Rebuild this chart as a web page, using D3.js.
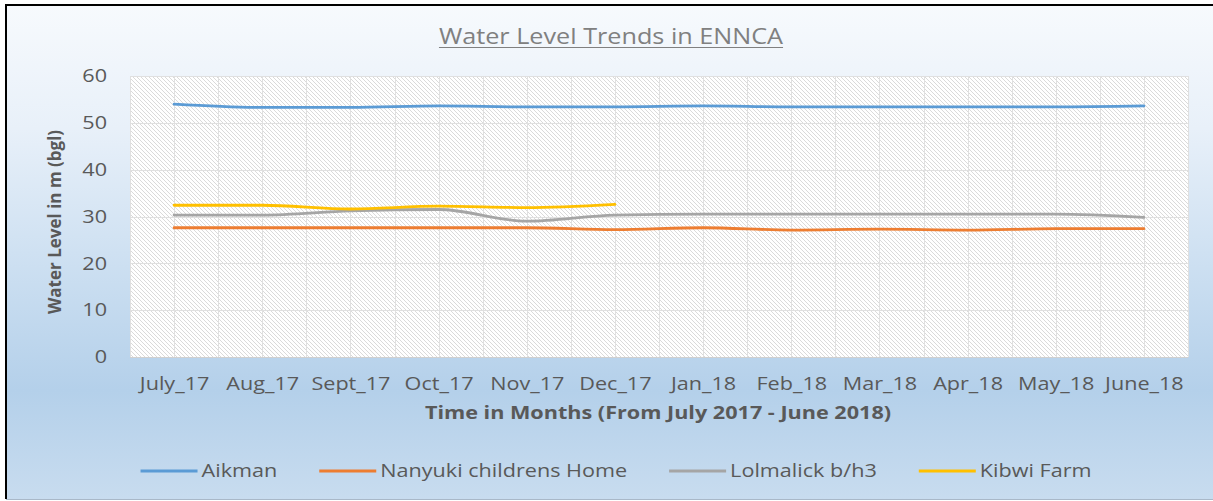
<!DOCTYPE html>
<html>
<head>
<meta charset="utf-8">
<script src="https://cdn.jsdelivr.net/npm/d3@7"></script>
<style>
  html, body { margin: 0; padding: 0; background: #fff; }
  svg { display: block; font-family: 'Open Sans', sans-serif; }
</style>
</head>
<body>
<div id="chart"></div>
<script>
// data
const months = ['July_17', 'Aug_17', 'Sept_17', 'Oct_17', 'Nov_17', 'Dec_17',
  'Jan_18', 'Feb_18', 'Mar_18', 'Apr_18', 'May_18', 'June_18']
const aikman = [54.0, 53.3, 53.3, 53.6, 53.4, 53.4, 53.6, 53.4, 53.4, 53.4, 53.4, 53.6]
const nanyuki = [27.6, 27.6, 27.6, 27.6, 27.6, 27.2, 27.6, 27.1, 27.3, 27.1, 27.4, 27.4]
const lolmalick = [30.3, 30.3, 31.2, 31.5, 29.0, 30.3, 30.5, 30.5, 30.5, 30.5, 30.5, 29.8]
const kibwi = [32.4, 32.4, 31.6, 32.2, 31.9, 32.6, null, null, null, null, null, null]
const seriesNames = ['Aikman', 'Nanyuki childrens Home', 'Lolmalick b/h3', 'Kibwi Farm']
const yTicks = [0, 10, 20, 30, 40, 50, 60]

const seriesValues = [aikman, nanyuki, lolmalick, kibwi]
const colors = ['#5b9bd5', '#ed7d31', '#a5a5a5', '#ffc000']

const width = 1213
const height = 501
const plot = { left: 130, right: 1188, top: 76, bottom: 357 }
const SX = 1.2 // the picture is stretched sideways
const textColor = '#595959'

// widen text by SX, returns nothing; stretched width = getComputedTextLength() afterwards
const stretch = sel => sel.each(function () {
  const w = this.getComputedTextLength()
  d3.select(this).attr('textLength', w * SX).attr('lengthAdjust', 'spacingAndGlyphs')
})
const widthOf = node => +node.getAttribute('textLength') || node.getComputedTextLength()

const svg = d3.select('#chart').append('svg')
  .attr('width', width)
  .attr('height', height)

const defs = svg.append('defs')
const grad = defs.append('linearGradient')
  .attr('id', 'bg')
  .attr('x1', 0).attr('y1', 0).attr('x2', 0).attr('y2', 1)
grad.selectAll('stop')
  .data([[0, '#f7fafd'], [0.25, '#e8f0f9'], [0.5, '#cfe1f2'], [0.78, '#b4d0ea'], [1, '#c8dcef']])
  .join('stop')
  .attr('offset', d => d[0])
  .attr('stop-color', d => d[1])

const hatch = defs.append('pattern')
  .attr('id', 'hatch')
  .attr('patternUnits', 'userSpaceOnUse')
  .attr('width', 4)
  .attr('height', 4)
hatch.append('rect').attr('width', 4).attr('height', 4).attr('fill', '#fff')
hatch.append('path')
  .attr('d', 'M-1,-1L5,5M-1,3L1,5M3,-1L5,1')
  .attr('stroke', '#dadada')
  .attr('stroke-width', 1)

// chart area + border
svg.append('rect')
  .attr('x', 6).attr('y', 5)
  .attr('width', width - 6).attr('height', 494)
  .attr('fill', 'url(#bg)')
svg.append('line')
  .attr('x1', 6).attr('x2', width).attr('y1', 499.5).attr('y2', 499.5)
  .attr('stroke', '#a9b8c8').attr('stroke-width', 1)
svg.append('path')
  .attr('d', `M6,${499}V5H${width}`)
  .attr('fill', 'none')
  .attr('stroke', '#000')
  .attr('stroke-width', 2)

const x = d3.scaleBand()
  .domain(months)
  .range([plot.left, plot.right])
  .paddingInner(0)
  .paddingOuter(0)
const bw = x.bandwidth()
const cx = m => x(m) + bw / 2

const y = d3.scaleLinear()
  .domain([0, 60])
  .range([plot.bottom, plot.top])

// plot area
svg.append('rect')
  .attr('x', plot.left).attr('y', plot.top)
  .attr('width', plot.right - plot.left).attr('height', plot.bottom - plot.top)
  .attr('fill', 'url(#hatch)')

// gridlines: horizontal at ticks, vertical at every half category
const grid = svg.append('g').attr('stroke', '#e0e0e0').attr('stroke-width', 1)
grid.selectAll('.hg')
  .data(yTicks)
  .join('line')
  .attr('x1', plot.left).attr('x2', plot.right)
  .attr('y1', d => Math.round(y(d)) + 0.5).attr('y2', d => Math.round(y(d)) + 0.5)
const vPos = months.flatMap(m => [x(m), cx(m)]).concat([plot.right])
grid.selectAll('.vg')
  .data(vPos)
  .join('line')
  .attr('x1', d => Math.round(d) + 0.5).attr('x2', d => Math.round(d) + 0.5)
  .attr('y1', plot.top).attr('y2', plot.bottom)
svg.append('line')
  .attr('x1', plot.left).attr('x2', plot.right)
  .attr('y1', plot.bottom + 0.5).attr('y2', plot.bottom + 0.5)
  .attr('stroke', '#d0d0d0')

// axes
const xAxis = svg.append('g')
  .attr('transform', `translate(0,${plot.bottom})`)
  .call(d3.axisBottom(d3.scalePoint().domain(months).range([cx(months[0]), cx(months[months.length - 1])]))
    .tickSize(0).tickPadding(20))
xAxis.select('.domain').remove()
xAxis.selectAll('text')
  .attr('font-family', 'Open Sans')
  .attr('font-size', 18)
  .attr('fill', textColor)
  .call(stretch)

const yAxis = svg.append('g')
  .attr('transform', `translate(${plot.left},0)`)
  .call(d3.axisLeft(y).tickValues(yTicks).tickSize(0).tickPadding(23))
yAxis.select('.domain').remove()
yAxis.selectAll('text')
  .attr('font-family', 'Open Sans')
  .attr('font-size', 18)
  .attr('fill', textColor)
  .call(stretch)

// lines
const line = d3.line()
  .defined(d => d.v != null)
  .x(d => cx(d.m))
  .y(d => y(d.v))
  .curve(d3.curveMonotoneX)

svg.append('g')
  .selectAll('path')
  .data(seriesValues)
  .join('path')
  .attr('d', vals => line(vals.map((v, i) => ({ m: months[i], v }))))
  .attr('fill', 'none')
  .attr('stroke', (d, i) => colors[i])
  .attr('stroke-width', 2.8)
  .attr('stroke-linecap', 'round')
  .attr('stroke-linejoin', 'round')

// titles
const title = svg.append('text')
  .attr('x', 611)
  .attr('y', 44)
  .attr('text-anchor', 'middle')
  .attr('font-size', 21)
  .attr('fill', '#808080')
  .text('Water Level Trends in ENNCA')
  .call(stretch)
const tw = widthOf(title.node())
svg.append('line')
  .attr('x1', 611 - tw / 2).attr('x2', 611 + tw / 2)
  .attr('y1', 47.5).attr('y2', 47.5)
  .attr('stroke', '#808080').attr('stroke-width', 1.2)

svg.append('text')
  .attr('x', 658)
  .attr('y', 419)
  .attr('text-anchor', 'middle')
  .attr('font-size', 18)
  .attr('font-weight', 'bold')
  .attr('fill', textColor)
  .text('Time in Months (From July 2017 - June 2018)')
  .call(stretch)

svg.append('text')
  .attr('transform', 'translate(61,222) rotate(-90)')
  .attr('text-anchor', 'middle')
  .attr('font-size', 17)
  .attr('font-weight', 'bold')
  .attr('fill', textColor)
  .text('Water Level in m (bgl)')

// legend
const legend = svg.append('g')
const items = legend.selectAll('g')
  .data(seriesNames)
  .join('g')
items.append('line')
  .attr('x1', 0).attr('x2', 57)
  .attr('y1', 0).attr('y2', 0)
  .attr('stroke', (d, i) => colors[i])
  .attr('stroke-width', 2.8)
items.append('text')
  .attr('x', 61)
  .attr('dy', '0.35em')
  .attr('font-size', 18)
  .attr('fill', textColor)
  .text(d => d)
  .call(stretch)

let pos = 0
items.each(function () {
  const w = 61 + widthOf(d3.select(this).select('text').node())
  d3.select(this).attr('transform', `translate(${pos},0)`)
  pos += w + 42
})
const legendWidth = pos - 42
legend.attr('transform', `translate(${616 - legendWidth / 2},471)`)
</script>
</body>
</html>
